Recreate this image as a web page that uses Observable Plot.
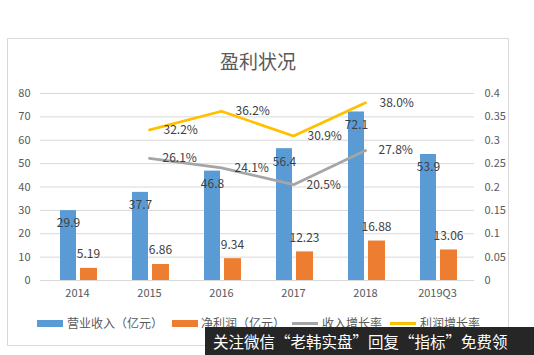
<!DOCTYPE html>
<html><head><meta charset="utf-8">
<script src="https://cdn.jsdelivr.net/npm/d3@7"></script>
<script src="https://cdn.jsdelivr.net/npm/@observablehq/plot@0.6"></script>
<style>
html,body{margin:0;padding:0;background:#fff;}
body{font-family:"Noto Sans CJK SC","Noto Sans",sans-serif;}
#wrap{position:relative;width:534px;height:355px;overflow:hidden;background:#fff;}
#box{position:absolute;left:7px;top:38px;width:500px;height:306px;border:1px solid #d9d9d9;}
#title{position:absolute;left:7px;width:502px;top:47px;text-align:center;font-size:19px;color:#595959;}
#chart{position:absolute;left:0;top:80px;}
.lg{position:absolute;top:314px;font-size:12px;color:#595959;white-space:nowrap;}
.sw{position:absolute;}
#wm{position:absolute;left:205px;top:327px;width:329px;height:28px;background:#262626;color:#fff;font-size:15.5px;line-height:28px;padding-left:8px;box-sizing:border-box;white-space:nowrap;}
</style></head>
<body>
<div id="wrap">
<div id="box"></div>
<div id="title">盈利状况</div>
<div id="chart"></div>
<div id="legend"></div>
<div id="wm">关注微信“老韩实盘”回复“指标”免费领</div>
</div>
<script>
const years = ["2014","2015","2016","2017","2018","2019Q3"];
const revenue = [29.9,37.7,46.8,56.4,72.1,53.9];
const profit = [5.19,6.86,9.34,12.23,16.88,13.06];
const growthYears = ["2015","2016","2017","2018"];
const revenueGrowth = [0.261,0.241,0.205,0.278];
const profitGrowth = [0.322,0.362,0.309,0.380];
const leftTicks = [0,10,20,30,40,50,60,70,80];
const rightTicks = [0,0.05,0.1,0.15,0.2,0.25,0.3,0.35,0.4];
const legendItems = ["营业收入（亿元）","净利润（亿元）","收入增长率","利润增长率"];
const colors = ["#5b9bd5","#ed7d31","#a5a5a5","#ffc000"];

const K = 200; // right-axis value -> left-axis units
const bars = years.map((y,i)=>({year:y, revenue:revenue[i], profit:profit[i]}));
const rg = growthYears.map((y,i)=>({year:y, rate:revenueGrowth[i]}));
const pg = growthYears.map((y,i)=>({year:y, rate:profitGrowth[i]}));
const pct = d => (d.rate*100).toFixed(1)+"%";
const font = "Noto Sans CJK SC, Noto Sans, sans-serif";

const plot = Plot.plot({
  width: 534, height: 230,
  marginLeft: 40, marginRight: 60, marginTop: 13, marginBottom: 30,
  style: {fontFamily: font, fontSize: "11px", color: "#595959", background: "transparent"},
  x: {type: "band", domain: years, padding: 0},
  y: {domain: [0, 80]},
  marks: [
    Plot.gridY(leftTicks, {stroke: "#d9d9d9", strokeOpacity: 1}),
    Plot.axisY(leftTicks, {anchor: "left", tickSize: 0, tickPadding: 10, label: null, fill: "#595959"}),
    Plot.axisY(rightTicks.map(t => t*K), {anchor: "right", tickSize: 0, tickPadding: 10, label: null, fill: "#595959",
      tickFormat: d => String(+(d/K).toFixed(2))}),
    Plot.axisX(years, {tickSize: 0, tickPadding: 9, label: null, fill: "#595959"}),
    Plot.barY(bars, {x: "year", y: "revenue", fill: colors[0], insetLeft: 19, insetRight: 37}),
    Plot.barY(bars, {x: "year", y: "profit", fill: colors[1], insetLeft: 39, insetRight: 16}),
    Plot.line(rg, {x: "year", y: d => d.rate*K, stroke: colors[2], strokeWidth: 2.8}),
    Plot.line(pg, {x: "year", y: d => d.rate*K, stroke: colors[3], strokeWidth: 2.8}),
    Plot.text(bars, {x: "year", y: "revenue", text: d => String(d.revenue), dx: -9, dy: 13, fill: "#404040", fontSize: 12}),
    Plot.text(bars, {x: "year", y: "profit", text: d => String(d.profit), dx: 11, dy: -14, fill: "#404040", fontSize: 12}),
    Plot.text(rg, {x: "year", y: d => d.rate*K, text: pct, dx: 13, textAnchor: "start", fill: "#404040", fontSize: 12}),
    Plot.text(pg, {x: "year", y: d => d.rate*K, text: pct, dx: 14, textAnchor: "start", fill: "#404040", fontSize: 12})
  ]
});
document.getElementById("chart").appendChild(plot);

const lg = document.getElementById("legend");
const pos = [[37,67],[172,201],[292,322],[390,420]];
legendItems.forEach((t,i)=>{
  const sw = document.createElement("div");
  sw.className = "sw";
  sw.style.left = pos[i][0]+"px";
  sw.style.width = "26px";
  sw.style.background = colors[i];
  if (i < 2) { sw.style.top = "320px"; sw.style.height = "7px"; }
  else { sw.style.top = "322px"; sw.style.height = "3px"; }
  lg.appendChild(sw);
  const tx = document.createElement("div");
  tx.className = "lg";
  tx.style.left = pos[i][1]+"px";
  tx.textContent = t;
  lg.appendChild(tx);
});
</script>
</body></html>
